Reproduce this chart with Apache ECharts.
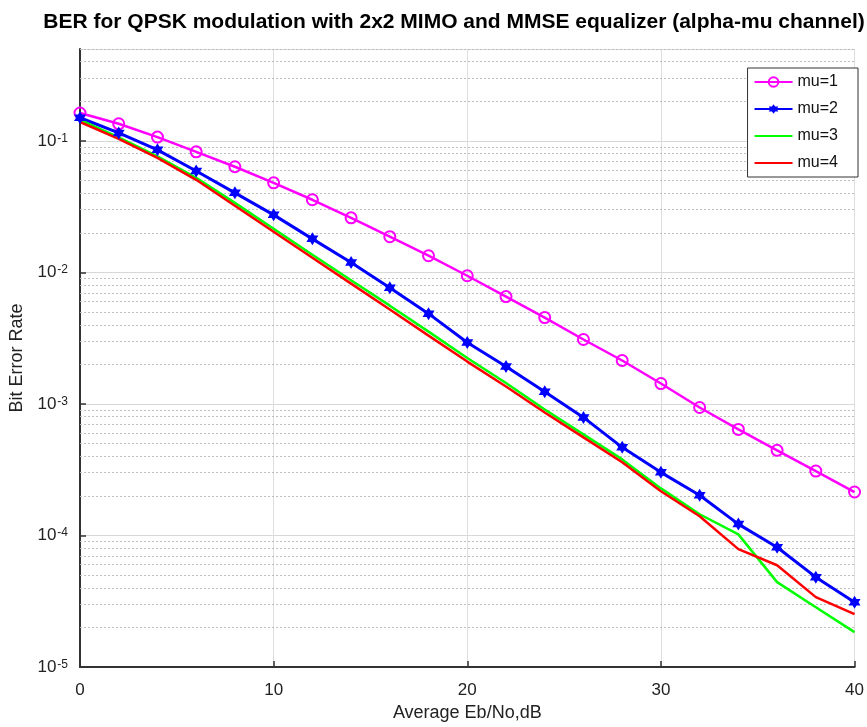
<!DOCTYPE html>
<html>

<head>
    <meta charset="UTF-8" />
    <script src="https://cdn.jsdelivr.net/npm/echarts@6/dist/echarts.min.js"></script>
    <style>
        html, body { margin: 0; background: #fff; }
        #main { width: 867px; height: 727px; }
    </style>
</head>

<body>
    <div id="main"></div>
    <script type="text/javascript">

        // Eb/No 轴 (dB)
        const snr = [0, 2, 4, 6, 8, 10, 12, 14, 16, 18, 20, 22, 24, 26, 28, 30, 32, 34, 36, 38, 40];

        // 各 mu 的误码率
        const berMu1 = [0.163, 0.135, 0.107, 0.0826, 0.0636, 0.048, 0.0357, 0.026, 0.0187, 0.0134, 0.00944,
            0.00655, 0.00454, 0.00309, 0.00214, 0.00143, 0.00094, 0.00064, 0.000444, 0.000309, 0.000214];
        const berMu2 = [0.15, 0.115, 0.0855, 0.0591, 0.0403, 0.0274, 0.018, 0.0119, 0.00766, 0.00486, 0.00293,
            0.00193, 0.00124, 0.00079, 0.000468, 0.000302, 0.000202, 0.000122, 8.14e-5, 4.82e-5, 3.11e-5];
        const berMu3 = [0.1443, 0.1063, 0.0763, 0.0524, 0.0338, 0.0215, 0.01364, 0.00873, 0.00559, 0.00355, 0.002234,
            0.001443, 0.000908, 0.000587, 0.000379, 0.000228, 0.000145, 0.000102, 4.42e-5, 2.85e-5, 1.84e-5];
        const berMu4 = [0.1393, 0.1035, 0.0743, 0.0506, 0.0321, 0.0204, 0.01294, 0.00822, 0.00522, 0.00331, 0.0021,
            0.001358, 0.000862, 0.000557, 0.00036, 0.000217, 0.00014, 7.87e-5, 5.94e-5, 3.4e-5, 2.52e-5];

        const names = ['mu=1', 'mu=2', 'mu=3', 'mu=4'];
        const decades = [1e-5, 1e-4, 1e-3, 1e-2, 1e-1];
        const minorSteps = [2, 3, 4, 5, 6, 7, 8, 9];
        const yMin = 1e-5;
        const yMax = 0.5;

        const font = "'Liberation Sans', Arial, sans-serif";

        // 六角星标记
        const hexStar = 'path://M100 0L129 50L187 50L158 100L187 150L129 150L100 200L71 150L13 150L42 100L13 50L71 50Z';

        function pairs(ys) {
            return snr.map((x, i) => [x, ys[i]]);
        }

        // 次网格线 (2..9 x 10^n)
        let minorLines = [];
        decades.forEach(d => {
            minorSteps.forEach(k => {
                let v = k * d;
                if (v <= yMax * 1.0001) minorLines.push({ yAxis: v });
            });
        });

        var myChart = echarts.init(document.getElementById('main'));

        var option = {
            animation: false,
            backgroundColor: '#fff',
            title: {
                text: 'BER for QPSK modulation with 2x2 MIMO and MMSE equalizer (alpha-mu channel)',
                left: 449,
                textAlign: 'center',
                top: 7,
                textStyle: { fontFamily: font, fontSize: 21, fontWeight: 'bold', color: '#000' }
            },
            grid: { left: 80, right: 6, top: 49, bottom: 59 },
            legend: {
                data: [
                    { name: names[0] },
                    { name: names[1] },
                    { name: names[2], itemStyle: { opacity: 0 } },
                    { name: names[3], itemStyle: { opacity: 0 } }
                ],
                orient: 'vertical',
                right: 9,
                top: 68,
                z: 10,
                itemWidth: 38,
                itemHeight: 12,
                itemGap: 11,
                padding: [6, 20, 6, 6],
                backgroundColor: '#fff',
                borderColor: '#333',
                borderWidth: 1,
                textStyle: { fontFamily: font, fontSize: 16, color: '#111' }
            },
            xAxis: {
                type: 'value',
                min: 0,
                max: 40,
                interval: 10,
                name: 'Average Eb/No,dB',
                nameLocation: 'middle',
                nameGap: 37,
                nameTextStyle: { fontFamily: font, fontSize: 18, color: '#222' },
                axisLine: { lineStyle: { color: '#333', width: 2 } },
                axisTick: { inside: true, length: 6, lineStyle: { color: '#333', width: 1.5 } },
                axisLabel: { fontFamily: font, fontSize: 17, color: '#222', margin: 15 },
                splitLine: { show: true, lineStyle: { color: '#dedede', width: 1 } }
            },
            yAxis: {
                type: 'log',
                logBase: 10,
                min: yMin,
                max: yMax,
                name: 'Bit Error Rate',
                nameLocation: 'middle',
                nameGap: 50,
                nameTextStyle: { fontFamily: font, fontSize: 18, color: '#222' },
                axisLine: { lineStyle: { color: '#333', width: 2 } },
                axisTick: { inside: true, length: 6, lineStyle: { color: '#333', width: 1.5 } },
                axisLabel: {
                    margin: 12,
                    showMaxLabel: false,
                    formatter: function (v) {
                        let e = Math.round(Math.log10(v));
                        if (Math.abs(Math.log10(v) - e) > 1e-6) return '';
                        return '{b|10}{e|' + e + '}';
                    },
                    rich: {
                        b: { fontFamily: font, fontSize: 17, color: '#222', lineHeight: 17, padding: [8, 0, 0, 0], verticalAlign: 'bottom' },
                        e: { fontFamily: font, fontSize: 12, color: '#222', lineHeight: 12, verticalAlign: 'top', padding: [0, 0, 0, 1] }
                    }
                },
                splitLine: { show: true, lineStyle: { color: '#d8d8d8', width: 1 } }
            },
            series: [
                {
                    name: 'minor',
                    type: 'line',
                    data: [],
                    z: 1,
                    silent: true,
                    markLine: {
                        silent: true,
                        z: 1,
                        symbol: 'none',
                        precision: 10,
                        label: { show: false },
                        lineStyle: { color: '#bdbdbd', type: [2, 2], width: 1 },
                        data: minorLines
                    }
                },
                {
                    name: names[0],
                    type: 'line',
                    data: pairs(berMu1),
                    symbol: 'circle',
                    symbolSize: 11,
                    itemStyle: { color: 'rgba(255,255,255,0)', borderColor: '#ff00ff', borderWidth: 2 },
                    lineStyle: { color: '#ff00ff', width: 2.5 }
                },
                {
                    name: names[1],
                    type: 'line',
                    data: pairs(berMu2),
                    symbol: hexStar,
                    symbolSize: [12, 13],
                    itemStyle: { color: '#0000ff' },
                    lineStyle: { color: '#0000ff', width: 3 }
                },
                {
                    name: names[2],
                    type: 'line',
                    data: pairs(berMu3),
                    symbol: 'none',
                    itemStyle: { color: '#00ff00' },
                    lineStyle: { color: '#00ff00', width: 2.5 }
                },
                {
                    name: names[3],
                    type: 'line',
                    data: pairs(berMu4),
                    symbol: 'none',
                    itemStyle: { color: '#ff0000' },
                    lineStyle: { color: '#ff0000', width: 2.5 }
                }
            ]
        };

        myChart.setOption(option);

    </script>
</body>

</html>
